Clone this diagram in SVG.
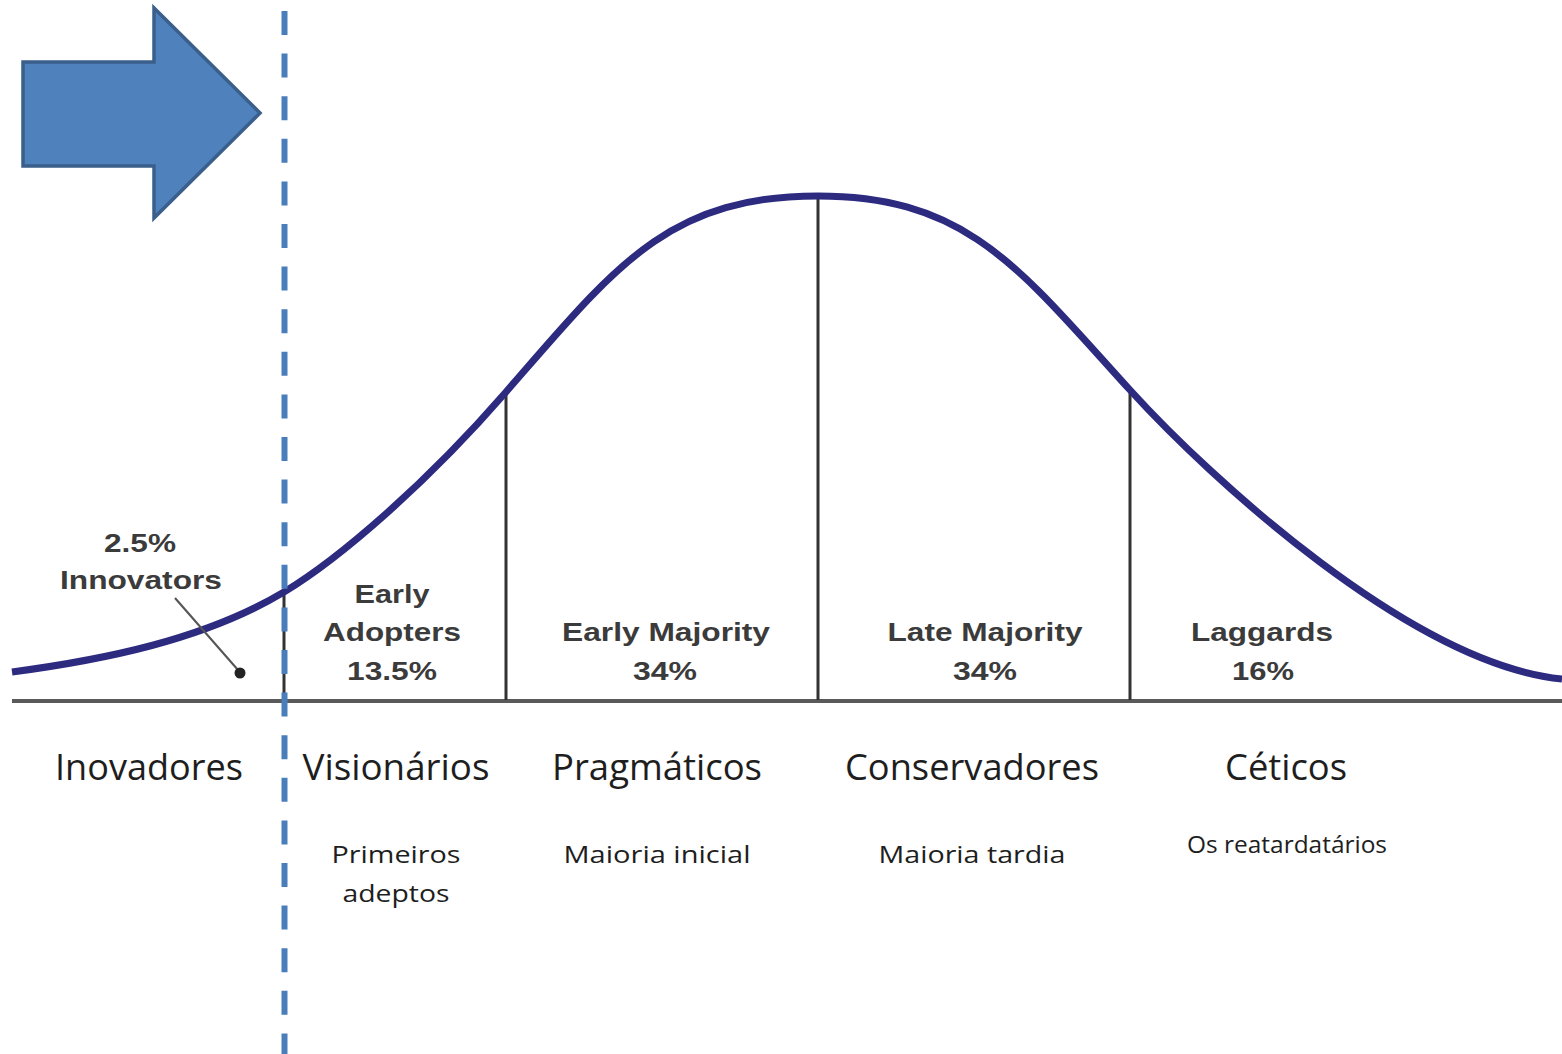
<svg xmlns="http://www.w3.org/2000/svg" width="1562" height="1054" viewBox="0 0 1562 1054">
<style>
.top{font-family:"Liberation Sans",Arial,sans-serif;font-weight:bold;font-size:26px;fill:#3b3b3b;text-anchor:middle}
.lbl{font-family:"Open Sans","Liberation Sans",sans-serif;font-size:36px;fill:#1e1e1e;text-anchor:middle}
.sub{font-family:"Open Sans","Liberation Sans",sans-serif;font-size:24px;fill:#1e1e1e;text-anchor:middle}
.div{stroke:#333;stroke-width:3;fill:none}
</style>
<rect width="1562" height="1054" fill="#fff"/>
<g id="axis">
<line x1="12" y1="701" x2="1562" y2="701" stroke="#5a5a5a" stroke-width="4"/>
</g>
<g id="dividers">
<line class="div" x1="284" y1="592" x2="284" y2="700"/>
<line class="div" x1="506" y1="392" x2="506" y2="700"/>
<line class="div" x1="818" y1="196" x2="818" y2="700"/>
<line class="div" x1="1130" y1="390" x2="1130" y2="700"/>
</g>
<g id="curve">
<path d="M12,672 C102,660 204,640 284,592 C339,559 426,484 506,392 C616,265.5 668,196 818,196 C968,196 1020,269 1130,390 C1210,478 1412,664 1562,679" fill="none" stroke="#2d2b80" stroke-width="7"/>
</g>
<g id="innovators-pointer">
<line x1="175" y1="598" x2="238" y2="670" stroke="#555" stroke-width="2"/>
<circle cx="240" cy="673" r="5.5" fill="#222"/>
</g>
<g id="node-innovators">
<text class="top" x="140" y="552" textLength="72" lengthAdjust="spacingAndGlyphs">2.5%</text>
<text class="top" x="141" y="589" textLength="162" lengthAdjust="spacingAndGlyphs">Innovators</text>
<text class="lbl" x="149" y="780" textLength="188" lengthAdjust="spacingAndGlyphs">Inovadores</text>
</g>
<g id="node-early-adopters">
<text class="top" x="392" y="603" textLength="75" lengthAdjust="spacingAndGlyphs">Early</text>
<text class="top" x="392" y="641" textLength="138" lengthAdjust="spacingAndGlyphs">Adopters</text>
<text class="top" x="392" y="680" textLength="90" lengthAdjust="spacingAndGlyphs">13.5%</text>
<text class="lbl" x="396" y="780" textLength="187" lengthAdjust="spacingAndGlyphs">Visionários</text>
<text class="sub" x="396" y="863" textLength="129" lengthAdjust="spacingAndGlyphs">Primeiros</text>
<text class="sub" x="396" y="902" textLength="107" lengthAdjust="spacingAndGlyphs">adeptos</text>
</g>
<g id="node-early-majority">
<text class="top" x="666" y="641" textLength="208" lengthAdjust="spacingAndGlyphs">Early Majority</text>
<text class="top" x="665" y="680" textLength="64" lengthAdjust="spacingAndGlyphs">34%</text>
<text class="lbl" x="657" y="780" textLength="210" lengthAdjust="spacingAndGlyphs">Pragmáticos</text>
<text class="sub" x="657" y="863" textLength="187" lengthAdjust="spacingAndGlyphs">Maioria inicial</text>
</g>
<g id="node-late-majority">
<text class="top" x="985" y="641" textLength="195" lengthAdjust="spacingAndGlyphs">Late Majority</text>
<text class="top" x="985" y="680" textLength="64" lengthAdjust="spacingAndGlyphs">34%</text>
<text class="lbl" x="972" y="780" textLength="254" lengthAdjust="spacingAndGlyphs">Conservadores</text>
<text class="sub" x="972" y="863" textLength="187" lengthAdjust="spacingAndGlyphs">Maioria tardia</text>
</g>
<g id="node-laggards">
<text class="top" x="1262" y="641" textLength="142" lengthAdjust="spacingAndGlyphs">Laggards</text>
<text class="top" x="1263" y="680" textLength="62" lengthAdjust="spacingAndGlyphs">16%</text>
<text class="lbl" x="1286" y="780" textLength="122" lengthAdjust="spacingAndGlyphs">Céticos</text>
<text class="sub" x="1287" y="853" font-size="22" textLength="200" lengthAdjust="spacingAndGlyphs">Os reatardatários</text>
</g>
<g id="marker-line">
<line x1="284.5" y1="11" x2="284.5" y2="1054" stroke="#4a7ebb" stroke-width="6" stroke-dasharray="24 18.6"/>
</g>
<g id="arrow">
<polygon points="23,62 154,62 154,8 260,113 154,218 154,166 23,166" fill="#4f81bd" stroke="#3a5f8b" stroke-width="3.5" stroke-linejoin="miter"/>
</g>
</svg>
